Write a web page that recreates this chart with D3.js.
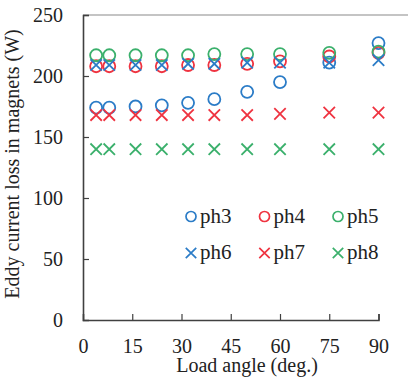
<!DOCTYPE html>
<html>
<head>
<meta charset="utf-8">
<script src="https://cdn.jsdelivr.net/npm/d3@7"></script>
<style>
body { margin: 0; background: #fff; }
text { font-family: "Liberation Serif", "Times New Roman", serif; fill: #222; }
</style>
</head>
<body>
<div id="chart"></div>
<script>
// load angle (deg.)
var angles = [4, 8, 16, 24, 32, 40, 50, 60, 75, 90];
var ph3 = [174, 174, 175, 176, 178, 181, 187, 195, 211, 227];
var ph4 = [208, 208, 208, 208, 209, 209, 210, 212, 216, 219];
var ph5 = [217, 217, 217, 217, 217, 218, 218, 218, 219, 220];
var ph6 = [209, 209, 209, 209, 210, 210, 211, 211, 211, 213];
var ph7 = [168, 168, 168, 168, 168, 168, 168, 169, 170, 170];
var ph8 = [140, 140, 140, 140, 140, 140, 140, 140, 140, 140];
var xTicks = [0, 15, 30, 45, 60, 75, 90];
var yTicks = [0, 50, 100, 150, 200, 250];

var blue = "#2b7cc7", red = "#ef3340", green = "#3bb06c";

var series = [
  {name: "ph3", values: ph3, color: blue, shape: "o"},
  {name: "ph4", values: ph4, color: red, shape: "o"},
  {name: "ph5", values: ph5, color: green, shape: "o"},
  {name: "ph6", values: ph6, color: blue, shape: "x"},
  {name: "ph7", values: ph7, color: red, shape: "x"},
  {name: "ph8", values: ph8, color: green, shape: "x"}
];

var width = 408, height = 380;
var plotLeft = 83, plotTop = 15, plotBottom = 320;

var x = d3.scaleLinear().domain([0, 90]).range([plotLeft, 378.5]);
var y = d3.scaleLinear().domain([0, 250]).range([plotBottom, plotTop]);

var svg = d3.select("#chart").append("svg")
  .attr("width", width)
  .attr("height", height);

// top frame line
svg.append("line")
  .attr("x1", plotLeft).attr("x2", width)
  .attr("y1", plotTop).attr("y2", plotTop)
  .attr("stroke", "#8a8a8a").attr("stroke-width", 1.2);

var yAxis = svg.append("g")
  .attr("transform", "translate(" + plotLeft + ",0)")
  .call(d3.axisLeft(y).tickValues(yTicks).tickSize(-6).tickPadding(20));
var xAxis = svg.append("g")
  .attr("transform", "translate(0," + plotBottom + ")")
  .call(d3.axisBottom(x).tickValues(xTicks).tickSize(-6).tickPadding(19));

[yAxis, xAxis].forEach(function(g) {
  g.select(".domain").attr("stroke", "#404040").attr("stroke-width", 1.6);
  g.selectAll(".tick line").attr("stroke", "#404040").attr("stroke-width", 1.2);
  g.selectAll(".tick text")
    .attr("font-family", "Liberation Serif, serif")
    .attr("font-size", 20).attr("fill", "#222");
});
xAxis.selectAll(".tick").filter(function(d) { return d === 0; }).select("line").remove();
yAxis.selectAll(".tick").filter(function(d) { return d === 0; }).select("line").remove();

svg.append("text")
  .attr("x", 247).attr("y", 372)
  .attr("text-anchor", "middle")
  .attr("font-size", 20)
  .text("Load angle (deg.)");

svg.append("text")
  .attr("transform", "translate(19,164) rotate(-90)")
  .attr("text-anchor", "middle")
  .attr("font-size", 20)
  .text("Eddy current loss in magnets (W)");

function drawMarker(g, shape, color, cx, cy, r, sw) {
  if (shape === "o") {
    g.append("circle")
      .attr("cx", cx).attr("cy", cy).attr("r", r)
      .attr("fill", "none").attr("stroke", color).attr("stroke-width", sw);
  } else {
    var s = r * 0.95;
    g.append("path")
      .attr("d", "M" + (cx - s) + "," + (cy - s) + "L" + (cx + s) + "," + (cy + s) +
                 "M" + (cx - s) + "," + (cy + s) + "L" + (cx + s) + "," + (cy - s))
      .attr("fill", "none").attr("stroke", color).attr("stroke-width", sw);
  }
}

var marks = svg.append("g");
series.forEach(function(s) {
  s.values.forEach(function(v, i) {
    drawMarker(marks, s.shape, s.color, x(angles[i]), y(v), 6, 1.8);
  });
});

// legend
var legX = [191, 264.5, 338], legY = [216.5, 253];
var legend = svg.append("g");
series.forEach(function(s, i) {
  var lx = legX[i % 3], ly = legY[Math.floor(i / 3)];
  drawMarker(legend, s.shape, s.color, lx, ly, s.shape === "o" ? 5 : 5.5, 1.7);
  legend.append("text")
    .attr("x", lx + 9).attr("y", ly + 6)
    .attr("font-size", 21)
    .text(s.name);
});
</script>
</body>
</html>
